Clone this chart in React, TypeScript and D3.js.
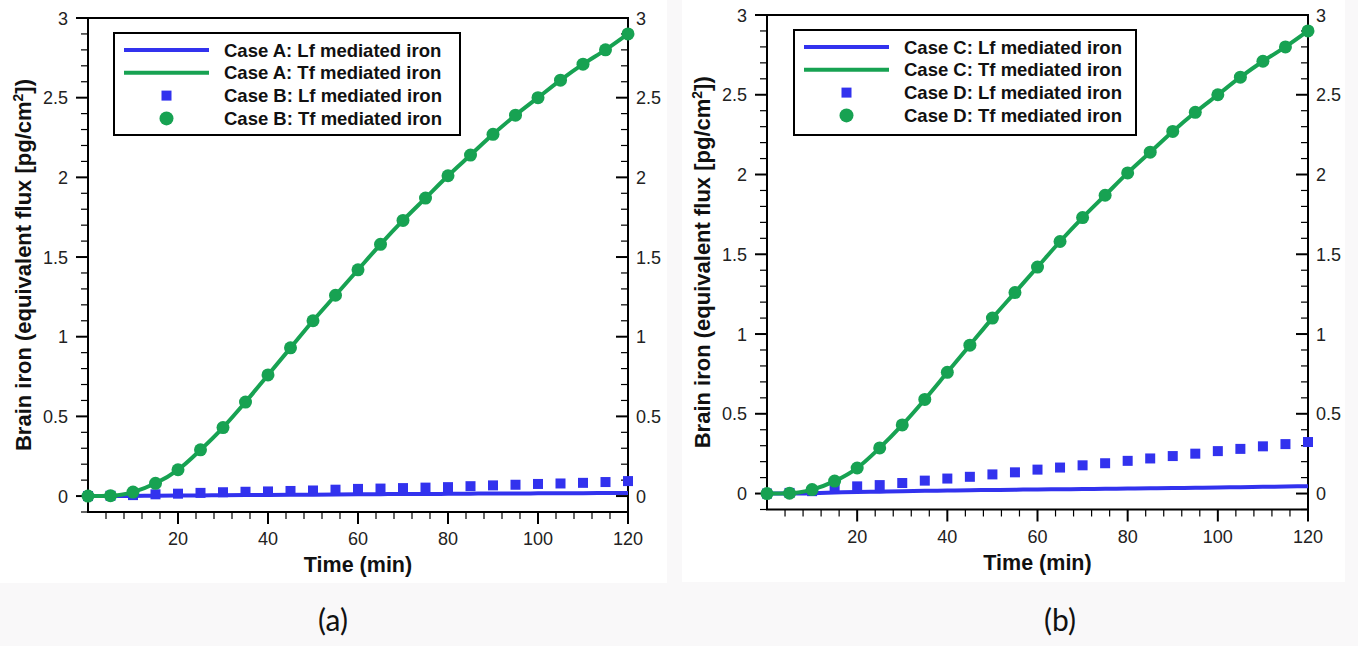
import React from 'react';
import * as d3 from 'd3';

// ---- data ----
const timeMin = [0, 5, 10, 15, 20, 25, 30, 35, 40, 45, 50, 55, 60, 65, 70, 75, 80, 85, 90, 95, 100, 105, 110, 115, 120];

// Panel (a)
const caseA_Lf = [0, 0, 0.001, 0.002, 0.003, 0.004, 0.005, 0.006, 0.007, 0.008, 0.009, 0.01, 0.011, 0.012, 0.013, 0.013, 0.014, 0.015, 0.016, 0.016, 0.017, 0.018, 0.018, 0.019, 0.02];
const caseA_Tf = [0, 0.002, 0.025, 0.08, 0.165, 0.29, 0.43, 0.59, 0.76, 0.93, 1.1, 1.26, 1.42, 1.58, 1.73, 1.87, 2.01, 2.14, 2.27, 2.39, 2.5, 2.61, 2.71, 2.8, 2.9];
const caseB_Lf = [0, 0.002, 0.006, 0.011, 0.015, 0.02, 0.024, 0.027, 0.029, 0.032, 0.035, 0.04, 0.045, 0.047, 0.05, 0.053, 0.056, 0.062, 0.067, 0.071, 0.076, 0.079, 0.083, 0.088, 0.094];
const caseB_Tf = [0, 0.002, 0.025, 0.08, 0.165, 0.29, 0.43, 0.59, 0.76, 0.93, 1.1, 1.26, 1.42, 1.58, 1.73, 1.87, 2.01, 2.14, 2.27, 2.39, 2.5, 2.61, 2.71, 2.8, 2.9];

// Panel (b)
const caseC_Lf = [0, 0, 0.002, 0.006, 0.01, 0.012, 0.014, 0.017, 0.019, 0.021, 0.022, 0.024, 0.026, 0.027, 0.028, 0.03, 0.031, 0.033, 0.035, 0.036, 0.038, 0.04, 0.042, 0.044, 0.046];
const caseC_Tf = [0, 0.002, 0.025, 0.078, 0.16, 0.286, 0.43, 0.59, 0.76, 0.93, 1.1, 1.26, 1.42, 1.58, 1.73, 1.87, 2.01, 2.14, 2.27, 2.39, 2.5, 2.61, 2.71, 2.8, 2.9];
const caseD_Lf = [0, 0.004, 0.015, 0.03, 0.045, 0.053, 0.066, 0.081, 0.094, 0.105, 0.12, 0.133, 0.15, 0.163, 0.177, 0.19, 0.205, 0.22, 0.235, 0.25, 0.266, 0.28, 0.296, 0.31, 0.323];
const caseD_Tf = [0, 0.002, 0.025, 0.078, 0.16, 0.286, 0.43, 0.59, 0.76, 0.93, 1.1, 1.26, 1.42, 1.58, 1.73, 1.87, 2.01, 2.14, 2.27, 2.39, 2.5, 2.61, 2.71, 2.8, 2.9];

const xTickValues = [20, 40, 60, 80, 100, 120];
const xTickLabels = ['20', '40', '60', '80', '100', '120'];
const yTickValues = [0, 0.5, 1, 1.5, 2, 2.5, 3];
const yTickLabels = ['0', '0.5', '1', '1.5', '2', '2.5', '3'];

const legendLabelsA = ['Case A: Lf mediated iron', 'Case A: Tf mediated iron', 'Case B: Lf mediated iron', 'Case B: Tf mediated iron'];
const legendLabelsB = ['Case C: Lf mediated iron', 'Case C: Tf mediated iron', 'Case D: Lf mediated iron', 'Case D: Tf mediated iron'];

const xLabel = 'Time (min)';
const panelTags = ['(a)', '(b)'];

// ---- styling ----
const W = 1358;
const H = 646;
const BLUE = '#3232ee';
const GREEN = '#17a252';
const FONT = '"Liberation Sans", Arial, sans-serif';

type PanelProps = {
  left: number; right: number; top: number; bottom: number;
  lfLine: number[]; tfLine: number[]; lfPts: number[]; tfPts: number[];
  legend: string[];
  legendBox: { x: number; y: number; w: number; h: number };
  tag: string; tagX: number;
};

function Panel(p: PanelProps) {
  const x = d3.scaleLinear().domain([0, 120]).range([p.left, p.right]);
  const y = d3.scaleLinear().domain([-0.1, 3]).range([p.bottom, p.top]);
  const line = d3.line<number>().x((_, i) => x(timeMin[i])).y(d => y(d)).curve(d3.curveMonotoneX);

  const xMinor = d3.range(4, 120, 4).filter(v => v % 20 !== 0);
  const yMinor = d3.range(-1, 31).map(v => v / 10).filter(v => Math.abs(v * 2 - Math.round(v * 2)) > 1e-6);

  const lb = p.legendBox;
  const rowGap = 22.8;
  const row0 = lb.y + 17;
  const lineX1 = lb.x + 10;
  const lineX2 = lb.x + 95;
  const markX = (lineX1 + lineX2) / 2;
  const textX = lb.x + 110;

  return (
    <g>
      {/* frame */}
      <rect x={p.left} y={p.top} width={p.right - p.left} height={p.bottom - p.top} fill="none" stroke="#000" strokeWidth={2} />
      {/* left axis ticks (outward) */}
      {yTickValues.map(v => (
        <line key={'ly' + v} x1={p.left - 12} x2={p.left} y1={y(v)} y2={y(v)} stroke="#000" strokeWidth={2} />
      ))}
      {yMinor.map(v => (
        <line key={'lym' + v} x1={p.left - 7} x2={p.left} y1={y(v)} y2={y(v)} stroke="#000" strokeWidth={1.2} />
      ))}
      {/* right axis ticks (inward) */}
      {yTickValues.map(v => (
        <line key={'ry' + v} x1={p.right - 12} x2={p.right} y1={y(v)} y2={y(v)} stroke="#000" strokeWidth={2} />
      ))}
      {yMinor.map(v => (
        <line key={'rym' + v} x1={p.right - 7} x2={p.right} y1={y(v)} y2={y(v)} stroke="#000" strokeWidth={1.2} />
      ))}
      {/* bottom ticks (outward) */}
      {xTickValues.map(v => (
        <line key={'bx' + v} x1={x(v)} x2={x(v)} y1={p.bottom} y2={p.bottom + 12} stroke="#000" strokeWidth={2} />
      ))}
      {xMinor.map(v => (
        <line key={'bxm' + v} x1={x(v)} x2={x(v)} y1={p.bottom} y2={p.bottom + 7} stroke="#000" strokeWidth={1.2} />
      ))}
      {/* tick labels */}
      {yTickValues.map((v, i) => (
        <text key={'lyl' + v} x={p.left - 20} y={y(v) + 6.5} textAnchor="end" fontFamily={FONT} fontSize={18} fill="#222">{yTickLabels[i]}</text>
      ))}
      {yTickValues.map((v, i) => (
        <text key={'ryl' + v} x={p.right + 8} y={y(v) + 6.5} textAnchor="start" fontFamily={FONT} fontSize={18} fill="#222">{yTickLabels[i]}</text>
      ))}
      {xTickValues.map((v, i) => (
        <text key={'bxl' + v} x={x(v)} y={p.bottom + 33} textAnchor="middle" fontFamily={FONT} fontSize={18} fill="#222">{xTickLabels[i]}</text>
      ))}
      {/* axis titles */}
      <text x={(p.left + p.right) / 2} y={p.bottom + 60} textAnchor="middle" fontFamily={FONT} fontSize={21.5} fontWeight="bold" fill="#111">{xLabel}</text>
      <text transform={`translate(${p.left - 57},${(p.top + p.bottom) / 2}) rotate(-90)`} textAnchor="middle" fontFamily={FONT} fontSize={22} fontWeight="bold" fill="#111">
        Brain iron (equivalent flux [pg/cm<tspan dy={-8} fontSize={14}>2</tspan><tspan dy={8}>])</tspan>
      </text>

      {/* data */}
      <path d={line(p.lfLine) || ''} fill="none" stroke={BLUE} strokeWidth={4} />
      {p.lfPts.map((v, i) => (
        <rect key={'sq' + i} x={x(timeMin[i]) - 5} y={y(v) - 5} width={10} height={10} fill={BLUE} />
      ))}
      <path d={line(p.tfLine) || ''} fill="none" stroke={GREEN} strokeWidth={4} />
      {p.tfPts.map((v, i) => (
        <circle key={'c' + i} cx={x(timeMin[i])} cy={y(v)} r={6.5} fill={GREEN} />
      ))}

      {/* legend */}
      <rect x={lb.x} y={lb.y} width={lb.w} height={lb.h} fill="#fff" stroke="#000" strokeWidth={2} />
      <line x1={lineX1} x2={lineX2} y1={row0} y2={row0} stroke={BLUE} strokeWidth={4} />
      <line x1={lineX1} x2={lineX2} y1={row0 + rowGap} y2={row0 + rowGap} stroke={GREEN} strokeWidth={4} />
      <rect x={markX - 5} y={row0 + 2 * rowGap - 5} width={10} height={10} fill={BLUE} />
      <circle cx={markX} cy={row0 + 3 * rowGap} r={7} fill={GREEN} />
      {p.legend.map((t, i) => (
        <text key={'lg' + i} x={textX} y={row0 + i * rowGap + 6.5} fontFamily={FONT} fontSize={18.5} fontWeight="bold" fill="#111">{t}</text>
      ))}

      {/* panel tag */}
      <text x={p.tagX} y={631} textAnchor="middle" fontFamily='Lato, "Open Sans", sans-serif' fontSize={30} fill="#111">{p.tag}</text>
    </g>
  );
}

export default function App() {
  return (
    <svg width={W} height={H} style={{ position: 'absolute', left: 0, top: 0, display: 'block' }}>
      <rect x={0} y={0} width={W} height={H} fill="#f9f8f9" />
      <rect x={0} y={0} width={667} height={583} fill="#ffffff" />
      <rect x={682} y={0} width={663} height={582} fill="#ffffff" />
      <Panel left={88} right={628} top={18} bottom={512}
        lfLine={caseA_Lf} tfLine={caseA_Tf} lfPts={caseB_Lf} tfPts={caseB_Tf}
        legend={legendLabelsA} legendBox={{ x: 114, y: 33, w: 346, h: 102 }}
        tag={panelTags[0]} tagX={333} />
      <Panel left={767} right={1308} top={15} bottom={509.5}
        lfLine={caseC_Lf} tfLine={caseC_Tf} lfPts={caseD_Lf} tfPts={caseD_Tf}
        legend={legendLabelsB} legendBox={{ x: 794, y: 30, w: 342, h: 105 }}
        tag={panelTags[1]} tagX={1060} />
    </svg>
  );
}
